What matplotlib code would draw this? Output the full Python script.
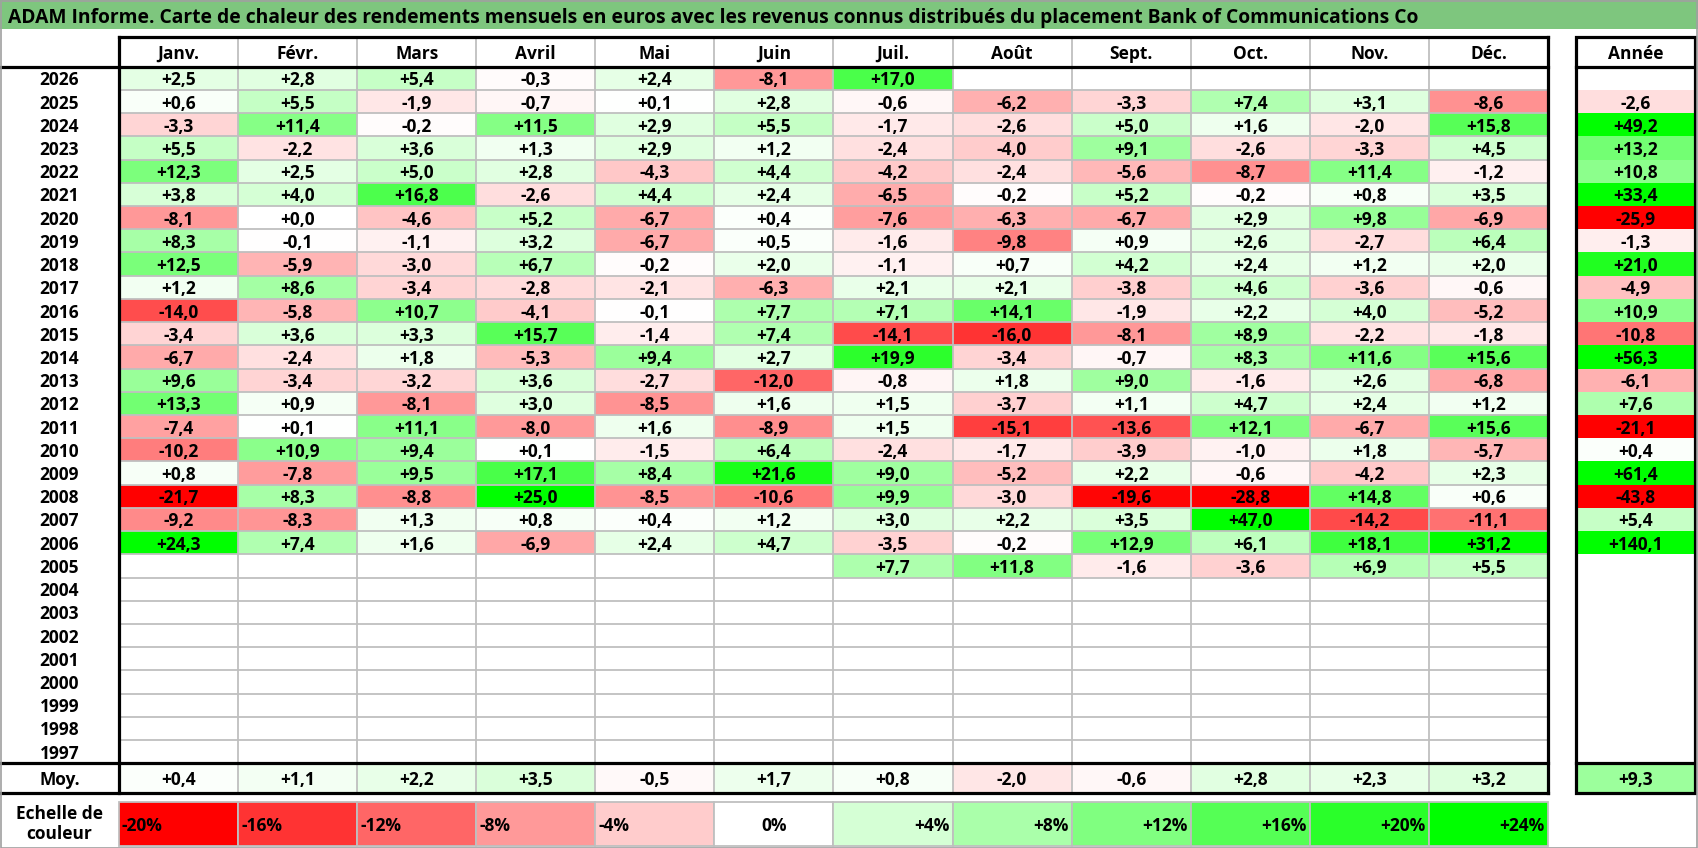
import matplotlib
matplotlib.use("Agg")
import matplotlib.pyplot as plt
from matplotlib.patches import Rectangle

# ---------------- data ----------------
title = ("ADAM Informe. Carte de chaleur des rendements mensuels en euros avec les "
         "revenus connus distribués du placement Bank of Communications Co")
months = ["Janv.", "Févr.", "Mars", "Avril", "Mai", "Juin",
          "Juil.", "Août", "Sept.", "Oct.", "Nov.", "Déc."]
years = list(range(2026, 1996, -1))
N = None
returns = [
    [2.5, 2.8, 5.4, -0.3, 2.4, -8.1, 17.0, N, N, N, N, N],          # 2026
    [0.6, 5.5, -1.9, -0.7, 0.1, 2.8, -0.6, -6.2, -3.3, 7.4, 3.1, -8.6],  # 2025
    [-3.3, 11.4, -0.2, 11.5, 2.9, 5.5, -1.7, -2.6, 5.0, 1.6, -2.0, 15.8],  # 2024
    [5.5, -2.2, 3.6, 1.3, 2.9, 1.2, -2.4, -4.0, 9.1, -2.6, -3.3, 4.5],   # 2023
    [12.3, 2.5, 5.0, 2.8, -4.3, 4.4, -4.2, -2.4, -5.6, -8.7, 11.4, -1.2],  # 2022
    [3.8, 4.0, 16.8, -2.6, 4.4, 2.4, -6.5, -0.2, 5.2, -0.2, 0.8, 3.5],   # 2021
    [-8.1, 0.0, -4.6, 5.2, -6.7, 0.4, -7.6, -6.3, -6.7, 2.9, 9.8, -6.9],  # 2020
    [8.3, -0.1, -1.1, 3.2, -6.7, 0.5, -1.6, -9.8, 0.9, 2.6, -2.7, 6.4],  # 2019
    [12.5, -5.9, -3.0, 6.7, -0.2, 2.0, -1.1, 0.7, 4.2, 2.4, 1.2, 2.0],   # 2018
    [1.2, 8.6, -3.4, -2.8, -2.1, -6.3, 2.1, 2.1, -3.8, 4.6, -3.6, -0.6],  # 2017
    [-14.0, -5.8, 10.7, -4.1, -0.1, 7.7, 7.1, 14.1, -1.9, 2.2, 4.0, -5.2],  # 2016
    [-3.4, 3.6, 3.3, 15.7, -1.4, 7.4, -14.1, -16.0, -8.1, 8.9, -2.2, -1.8],  # 2015
    [-6.7, -2.4, 1.8, -5.3, 9.4, 2.7, 19.9, -3.4, -0.7, 8.3, 11.6, 15.6],  # 2014
    [9.6, -3.4, -3.2, 3.6, -2.7, -12.0, -0.8, 1.8, 9.0, -1.6, 2.6, -6.8],  # 2013
    [13.3, 0.9, -8.1, 3.0, -8.5, 1.6, 1.5, -3.7, 1.1, 4.7, 2.4, 1.2],    # 2012
    [-7.4, 0.1, 11.1, -8.0, 1.6, -8.9, 1.5, -15.1, -13.6, 12.1, -6.7, 15.6],  # 2011
    [-10.2, 10.9, 9.4, 0.1, -1.5, 6.4, -2.4, -1.7, -3.9, -1.0, 1.8, -5.7],  # 2010
    [0.8, -7.8, 9.5, 17.1, 8.4, 21.6, 9.0, -5.2, 2.2, -0.6, -4.2, 2.3],  # 2009
    [-21.7, 8.3, -8.8, 25.0, -8.5, -10.6, 9.9, -3.0, -19.6, -28.8, 14.8, 0.6],  # 2008
    [-9.2, -8.3, 1.3, 0.8, 0.4, 1.2, 3.0, 2.2, 3.5, 47.0, -14.2, -11.1],  # 2007
    [24.3, 7.4, 1.6, -6.9, 2.4, 4.7, -3.5, -0.2, 12.9, 6.1, 18.1, 31.2],  # 2006
    [N, N, N, N, N, N, 7.7, 11.8, -1.6, -3.6, 6.9, 5.5],             # 2005
] + [[N] * 12 for _ in range(8)]                                    # 2004-1997
annual = [N, -2.6, 49.2, 13.2, 10.8, 33.4, -25.9, -1.3, 21.0, -4.9, 10.9,
          -10.8, 56.3, -6.1, 7.6, -21.1, 0.4, 61.4, -43.8, 5.4, 140.1, N] + [N] * 8
averages = [0.4, 1.1, 2.2, 3.5, -0.5, 1.7, 0.8, -2.0, -0.6, 2.8, 2.3, 3.2]
average_year = 9.3
scale_steps = [-20, -16, -12, -8, -4, 0, 4, 8, 12, 16, 20, 24]

# ---------------- style / layout ----------------
W, H = 1698, 848
FONT = ["Open Sans", "DejaVu Sans"]
FS = 12.5
TITLE_BG = "#7EC67E"
GRID = "#BFBFBF"
THICK = 2.3
THIN = 1.3

X_YR_R = 119.0
X_M_R = 1548.0
CW = (X_M_R - X_YR_R) / 12
X_A_L, X_A_R = 1576.0, 1695.5
Y_H_T, Y_H_B = 36.7, 66.7
RH = 23.22
Y_MOY_T = Y_H_B + len(years) * RH
Y_MOY_B = 792.7
Y_SC_T, Y_SC_B = 802.3, 845.5


def cell_color(v):
    if v is None:
        return "white"
    if v >= 0:
        t = min(v / 24.0, 1.0)
        return (1 - t, 1.0, 1 - t)
    t = min(-v / 20.0, 1.0)
    return (1.0, 1 - t, 1 - t)


def fmt(v):
    return ("%+.1f" % v).replace(".", ",")


fig = plt.figure(figsize=(W / 100, H / 100), dpi=100)
ax = fig.add_axes([0, 0, 1, 1])
ax.set_xlim(0, W)
ax.set_ylim(H, 0)
ax.axis("off")

txt = dict(fontfamily=FONT, fontweight="bold", fontsize=FS, color="black",
           va="center_baseline")

# title bar
ax.add_patch(Rectangle((0, 0), W, 28.5, facecolor=TITLE_BG, edgecolor="none"))
t = ax.text(8, 15, title, ha="left", **{**txt, "fontsize": 12})
fig.canvas.draw()
bb = t.get_window_extent()
t.set_fontsize(12 * 1408.0 / bb.width)

# header
for j, m in enumerate(months):
    ax.text(X_YR_R + (j + 0.5) * CW, (Y_H_T + Y_H_B) / 2, m, ha="center", **txt)
ax.text((X_A_L + X_A_R) / 2, (Y_H_T + Y_H_B) / 2, "Année", ha="center", **txt)

# body
for i, y in enumerate(years):
    top = Y_H_B + i * RH
    cy = top + RH / 2
    ax.text(X_YR_R / 2, cy, str(y), ha="center", **txt)
    for j, v in enumerate(returns[i]):
        x = X_YR_R + j * CW
        ax.add_patch(Rectangle((x, top), CW, RH, facecolor=cell_color(v),
                               edgecolor="none"))
        if v is not None:
            ax.text(x + CW / 2, cy, fmt(v), ha="center", **txt)
    va = annual[i]
    ax.add_patch(Rectangle((X_A_L, top), X_A_R - X_A_L, RH,
                           facecolor=cell_color(va), edgecolor="none"))
    if va is not None:
        ax.text((X_A_L + X_A_R) / 2, cy, fmt(va), ha="center", **txt)

# average row
cy = (Y_MOY_T + Y_MOY_B) / 2
ax.text(X_YR_R / 2, cy, "Moy.", ha="center", **txt)
for j, v in enumerate(averages):
    x = X_YR_R + j * CW
    ax.add_patch(Rectangle((x, Y_MOY_T), CW, Y_MOY_B - Y_MOY_T,
                           facecolor=cell_color(v), edgecolor="none"))
    ax.text(x + CW / 2, cy, fmt(v), ha="center", **txt)
ax.add_patch(Rectangle((X_A_L, Y_MOY_T), X_A_R - X_A_L, Y_MOY_B - Y_MOY_T,
                       facecolor=cell_color(average_year), edgecolor="none"))
ax.text((X_A_L + X_A_R) / 2, cy, fmt(average_year), ha="center", **txt)

# grey grid in the monthly table
for j in range(1, 12):
    x = X_YR_R + j * CW
    ax.plot([x, x], [Y_H_T, Y_MOY_B], color=GRID, lw=THIN, zorder=3)
for i in range(1, len(years)):
    yy = Y_H_B + i * RH
    ax.plot([X_YR_R, X_M_R], [yy, yy], color=GRID, lw=THIN, zorder=3)

# thick black borders
k = dict(color="black", lw=THICK, zorder=5, solid_capstyle="projecting")
ax.plot([X_YR_R, X_M_R], [Y_H_T, Y_H_T], **k)
ax.plot([0, X_M_R], [Y_H_B, Y_H_B], **k)
ax.plot([0, X_M_R], [Y_MOY_T, Y_MOY_T], **k)
ax.plot([0, X_M_R], [Y_MOY_B, Y_MOY_B], **k)
ax.plot([X_YR_R, X_YR_R], [Y_H_T, Y_MOY_B], **k)
ax.plot([X_M_R, X_M_R], [Y_H_T, Y_MOY_B], **k)
ax.add_patch(Rectangle((X_A_L, Y_H_T), X_A_R - X_A_L, Y_MOY_B - Y_H_T,
                       facecolor="none", edgecolor="black", lw=THICK, zorder=5))
ax.plot([X_A_L, X_A_R], [Y_H_B, Y_H_B], **k)
ax.plot([X_A_L, X_A_R], [Y_MOY_T, Y_MOY_T], **k)

# colour scale
ax.text(X_YR_R / 2, (Y_SC_T + Y_SC_B) / 2, "Echelle de\ncouleur", ha="center",
        va="center", fontfamily=FONT, fontweight="bold", fontsize=FS,
        linespacing=1.15)
scy = (Y_SC_T + Y_SC_B) / 2
for j, s in enumerate(scale_steps):
    x = X_YR_R + j * CW
    ax.add_patch(Rectangle((x, Y_SC_T), CW, Y_SC_B - Y_SC_T,
                           facecolor=cell_color(s), edgecolor=GRID, lw=THIN,
                           zorder=2))
    if s < 0:
        ax.text(x + 3, scy, "%d%%" % s, ha="left", **txt)
    elif s == 0:
        ax.text(x + CW / 2, scy, "0%", ha="center", **txt)
    else:
        ax.text(x + CW - 3, scy, "+%d%%" % s, ha="right", **txt)

# outer frame
ax.add_patch(Rectangle((0.5, 0.5), W - 1, H - 1, facecolor="none",
                       edgecolor="#A0A0A0", lw=1.2, zorder=6))

fig.savefig("out.png", dpi=100)
